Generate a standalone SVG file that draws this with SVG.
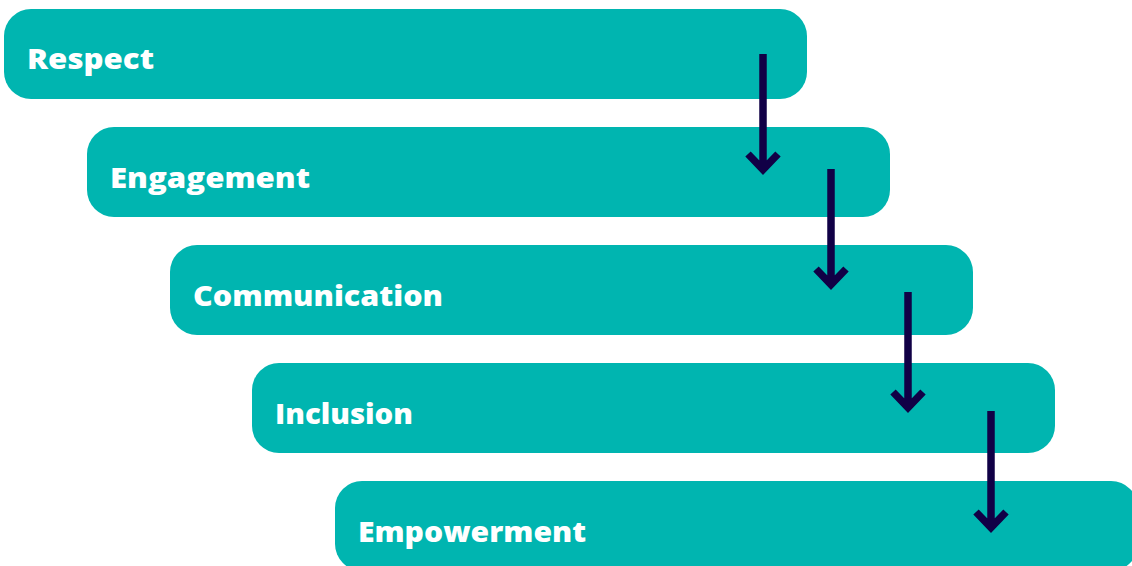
<svg xmlns="http://www.w3.org/2000/svg" width="1132" height="566" viewBox="0 0 1132 566">
<defs>
<style>
.box{fill:#00b5b0;}
.lbl{font-family:"Open Sans","Liberation Sans",sans-serif;font-weight:800;font-size:28px;fill:#ffffff;}
.arr{stroke:#110046;stroke-width:7.5;fill:none;stroke-linejoin:miter;stroke-linecap:butt;}
</style>
</defs>
<rect width="1132" height="566" fill="#ffffff"/>
<g id="node-respect"><rect class="box" x="4" y="9" width="803" height="90" rx="27"/><text class="lbl" x="27" y="69" textLength="127" lengthAdjust="spacingAndGlyphs">Respect</text></g>
<g id="node-engagement"><rect class="box" x="87" y="127" width="803" height="90" rx="27"/><text class="lbl" x="110" y="188" textLength="200" lengthAdjust="spacingAndGlyphs">Engagement</text></g>
<g id="node-communication"><rect class="box" x="170" y="245" width="803" height="90" rx="27"/><text class="lbl" x="193" y="306" textLength="250" lengthAdjust="spacingAndGlyphs">Communication</text></g>
<g id="node-inclusion"><rect class="box" x="252" y="363" width="803" height="90" rx="27"/><text class="lbl" x="275" y="424" textLength="138" lengthAdjust="spacingAndGlyphs">Inclusion</text></g>
<g id="node-empowerment"><rect class="box" x="335" y="481" width="803" height="90" rx="27"/><text class="lbl" x="358" y="542" textLength="228" lengthAdjust="spacingAndGlyphs">Empowerment</text></g>
<g id="connectors">
<path class="arr" d="M763 54V169M748 154L763 169.5L778 154"/>
<path class="arr" d="M831 169V284M816 269L831 284.5L846 269"/>
<path class="arr" d="M908 292V407M893 392L908 407.5L923 392"/>
<path class="arr" d="M991 411V527M976 512L991 527.5L1006 512"/>
</g>
</svg>
